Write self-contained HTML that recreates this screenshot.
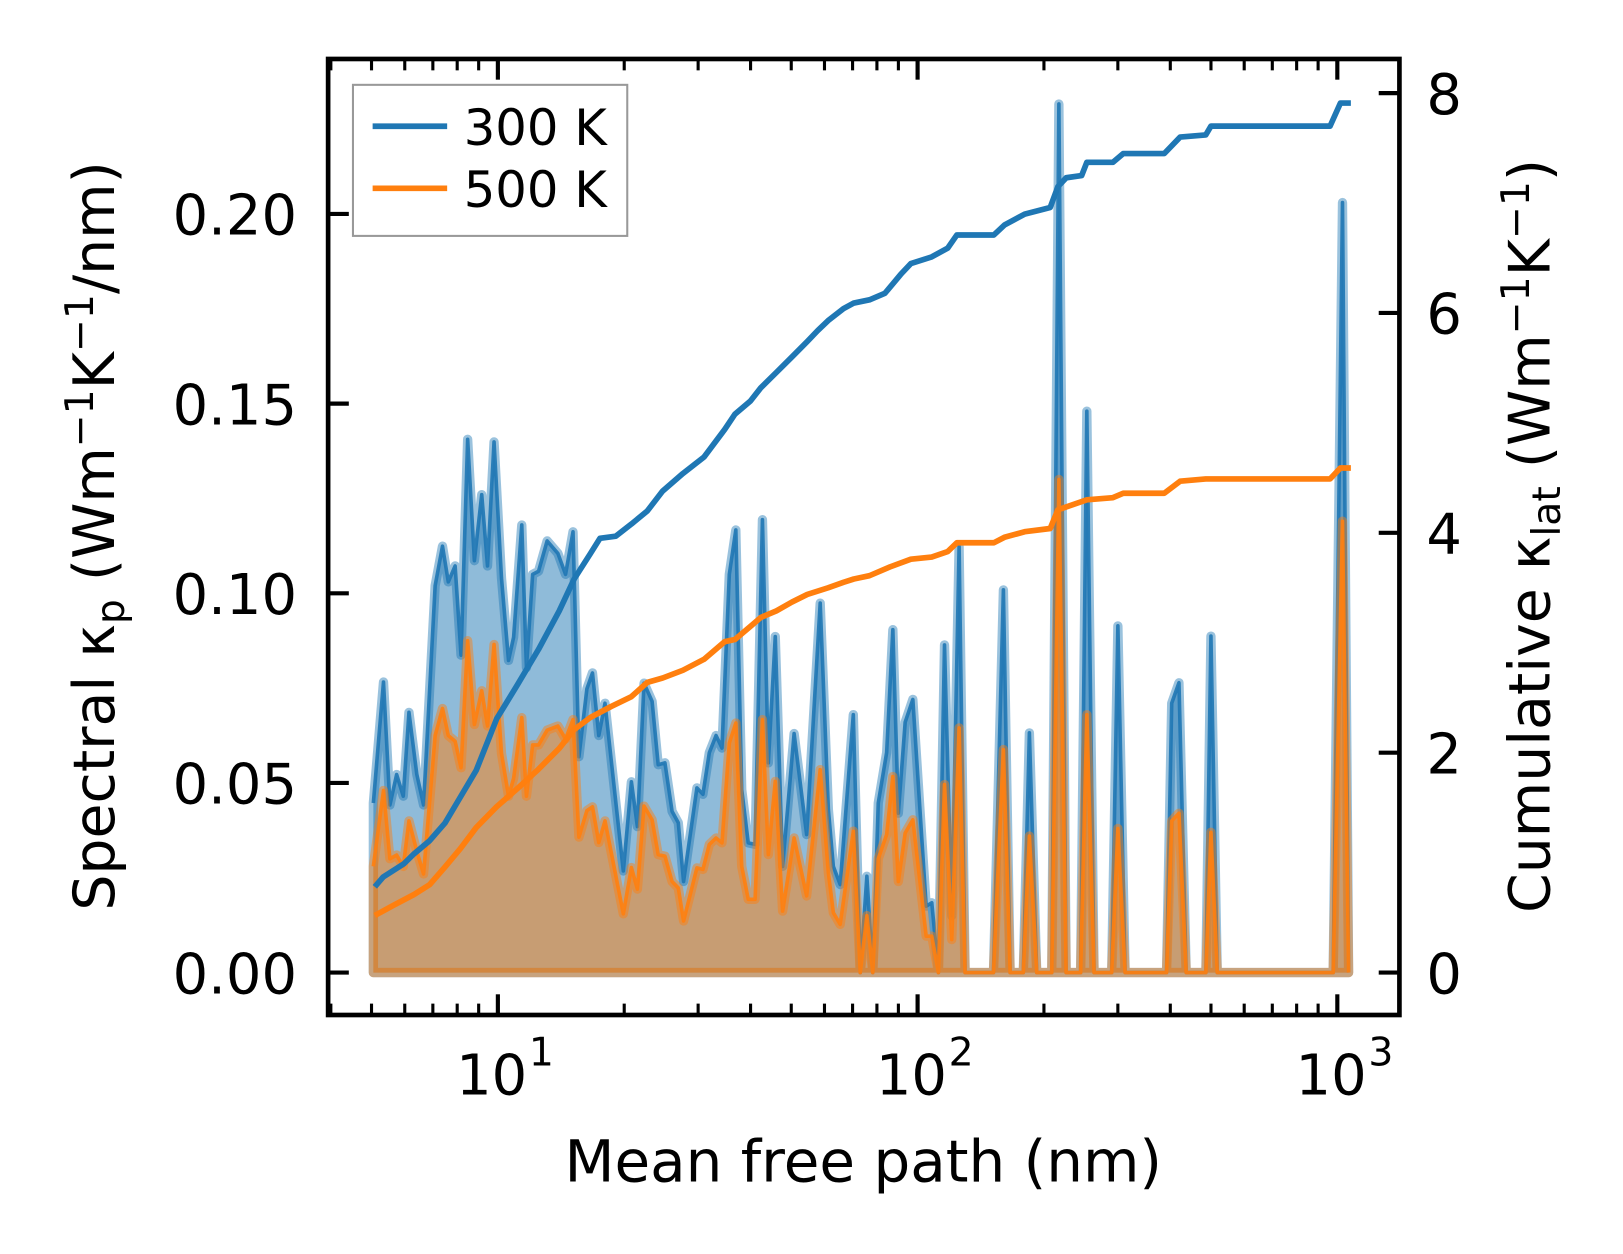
<!DOCTYPE html>
<html><head><meta charset="utf-8"><style>
html,body{margin:0;padding:0;background:#fff;}
svg{display:block;font-family:"DejaVu Sans","Liberation Sans",sans-serif;}
</style></head><body>
<svg id="chart" width="1623" height="1254" viewBox="0 0 1568 1212" preserveAspectRatio="none" xmlns="http://www.w3.org/2000/svg">
<g id="plot"></g>
<g id="axes"></g>
</svg>
<script>
// ---- data ----
const specMfp = [5.05,5.34,5.53,5.74,5.95,6.14,6.41,6.65,7.09,7.38,7.62,7.91,8.17,8.47,8.79,9.15,9.45,9.79,10.2,10.6,10.9,11.4,11.7,12.1,12.5,13.1,13.9,14.5,15.1,15.6,16.3,16.8,17.4,18.0,19.9,20.8,21.5,22.3,23.3,24.1,25.0,26.0,26.9,27.7,29.8,30.8,31.9,33.1,34.2,35.6,36.9,38.1,39.5,41.0,42.7,44.1,45.8,47.7,50.8,54.4,58.6,61.3,63.0,65.4,70.3,73.0,75.7,78.2,80.6,84.4,87.3,90.0,93.4,97.4,104.8,108.1,112.1,115.9,120.6,125.6,129.8,151.6,160.1,166.1,178.6,184.6,192.2,208.7,217.1,225.9,244.6,253.1,263.3,290.0,300.1,312.2,391.8,403.1,419.5,436.5,486.3,500.0,517.4,977.5,1029,1064];
const spec300 = [0.0447,0.0766,0.0442,0.0522,0.0465,0.0686,0.0522,0.0442,0.102,0.1124,0.103,0.1072,0.0837,0.1406,0.1086,0.126,0.1072,0.1399,0.104,0.0823,0.0884,0.118,0.0804,0.105,0.1058,0.1138,0.1105,0.105,0.1162,0.0569,0.0748,0.079,0.0625,0.071,0.0268,0.0503,0.0385,0.0763,0.0715,0.0548,0.0553,0.0425,0.0395,0.024,0.0487,0.047,0.058,0.0625,0.0592,0.105,0.1167,0.0482,0.0342,0.0338,0.1194,0.0553,0.0886,0.028,0.063,0.0364,0.0974,0.043,0.028,0.0232,0.068,0,0.0254,0,0.0447,0.058,0.0904,0.042,0.066,0.072,0.0175,0.0184,0,0.0864,0.015,0.1123,0,0,0.1009,0,0,0.0632,0,0,0.229,0,0,0.148,0,0,0.0914,0,0,0.071,0.0764,0,0,0.0887,0,0,0.203,0];
const spec500 = [0.028,0.048,0.030,0.031,0.028,0.040,0.032,0.026,0.0625,0.0696,0.0625,0.061,0.054,0.0875,0.0654,0.0743,0.065,0.0865,0.0578,0.0465,0.0512,0.0672,0.0465,0.060,0.060,0.0639,0.065,0.0616,0.0667,0.0357,0.0427,0.0437,0.0343,0.040,0.0155,0.0277,0.022,0.0439,0.0403,0.0311,0.0307,0.024,0.0223,0.0136,0.0276,0.0272,0.0338,0.0355,0.0342,0.0605,0.0658,0.028,0.0193,0.0193,0.0667,0.0311,0.0504,0.0162,0.0355,0.0202,0.0535,0.0263,0.0158,0.0127,0.0373,0,0.015,0,0.030,0.0364,0.0517,0.024,0.0368,0.0403,0.0096,0.0096,0,0.0496,0.0087,0.0645,0,0,0.0588,0,0,0.036,0,0,0.130,0,0,0.068,0,0,0.038,0,0,0.040,0.042,0,0,0.037,0,0,0.119,0];
const cumMfp300 = [5.09,5.33,5.97,6.31,6.88,7.48,8.15,8.88,9.94,11.1,12.5,14.0,15.2,16.6,17.5,19.1,20.8,22.7,24.7,27.6,31.0,34.7,36.7,40.0,42.3,46.1,50.2,54.6,57.8,61.2,66.6,70.5,76.8,83.6,91.1,96.4,108,118,124,152,161,180,207,216,226,246,253,292,309,387,422,486,500,961,1017,1077];
const cum300 = [0.78,0.87,0.99,1.08,1.20,1.36,1.60,1.84,2.31,2.61,2.94,3.29,3.58,3.81,3.95,3.97,4.08,4.20,4.38,4.54,4.69,4.94,5.08,5.20,5.32,5.46,5.60,5.74,5.84,5.93,6.04,6.09,6.12,6.18,6.35,6.45,6.51,6.59,6.71,6.71,6.80,6.90,6.96,7.15,7.23,7.25,7.37,7.37,7.45,7.45,7.60,7.62,7.70,7.70,7.91,7.91];
const cumMfp500 = [5.09,5.63,6.31,6.88,7.48,8.15,8.88,9.94,11.1,12.5,14.0,15.2,16.6,18.6,20.8,22.7,24.7,27.6,31.0,34.7,36.7,40.0,42.3,46.1,50.2,54.6,61.2,66.6,70.5,76.8,86.0,96.4,108,118,124,152,161,180,207,216,253,292,309,387,422,486,500,961,1017,1077];
const cum500 = [0.52,0.61,0.71,0.80,0.96,1.13,1.32,1.51,1.67,1.85,2.04,2.21,2.32,2.42,2.51,2.64,2.68,2.75,2.85,3.01,3.03,3.15,3.23,3.29,3.37,3.44,3.50,3.55,3.58,3.61,3.69,3.76,3.78,3.83,3.91,3.91,3.96,4.01,4.04,4.21,4.30,4.32,4.36,4.36,4.47,4.49,4.49,4.49,4.59,4.59];
const leftTicks = [0,0.05,0.10,0.15,0.20];
const leftTickLabels = ["0.00","0.05","0.10","0.15","0.20"];
const rightTicks = [0,2,4,6,8];
const xDecades = [1,2,3];

// ---- axis functions (viewBox units) ----
const AX = {l:317, r:1352, t:57, b:981};
function xs(m){ return 481 + 405.5*(Math.log10(m)-1); }
function yl(v){ return 940 - v*3666; }
function yr(c){ return 940 - c*106.25; }
const NS = "http://www.w3.org/2000/svg";
function mk(tag, attrs, parent){ const e=document.createElementNS(NS,tag); for(const k in attrs) e.setAttribute(k,attrs[k]); parent.appendChild(e); return e; }
const plot = document.getElementById('plot');
const axes = document.getElementById('axes');

function specPath(vals){
  let d=''; vals.forEach((v,i)=>{ d += (i?'L':'M') + xs(specMfp[i]).toFixed(1)+','+yl(v).toFixed(1); }); return d;
}
function fillPath(vals){
  return specPath(vals) + 'L'+xs(specMfp[specMfp.length-1]).toFixed(1)+','+yl(0)+'L'+xs(specMfp[0]).toFixed(1)+','+yl(0)+'Z';
}
function cumPath(mf, vals){
  let d=''; vals.forEach((v,i)=>{ d += (i?'L':'M') + xs(mf[i]).toFixed(1)+','+yr(v).toFixed(1); }); return d;
}
const series = [{vals:spec300,c:'#1f77b4',n:'300'},{vals:spec500,c:'#ff7f0e',n:'500'}];
series.forEach(s=>{
  const f = mk('path',{d:fillPath(s.vals),fill:s.c,'fill-opacity':0.5,stroke:s.c,'stroke-opacity':0.45,'stroke-width':9,'stroke-linejoin':'round'},plot);
  
  
  const l = mk('path',{d:specPath(s.vals),fill:'none',stroke:s.c,'stroke-width':3.5,'stroke-linejoin':'round','stroke-opacity':0.9},plot);
  
  
});
const c1 = mk('path',{d:cumPath(cumMfp300,cum300),fill:'none',stroke:'#1f77b4','stroke-width':5.5,'stroke-linejoin':'round'},plot);


const c2 = mk('path',{d:cumPath(cumMfp500,cum500),fill:'none',stroke:'#ff7f0e','stroke-width':5.5,'stroke-linejoin':'round'},plot);



// frame
const fr = mk('rect',{x:AX.l,y:AX.t,width:AX.r-AX.l,height:AX.b-AX.t,fill:'none',stroke:'#000','stroke-width':4.5},axes);



// left ticks + labels
leftTicks.forEach((v,i)=>{
  const y=yl(v);
  const t=mk('line',{x1:AX.l,x2:AX.l+20,y1:y,y2:y,stroke:'#000','stroke-width':4},axes);
  
  
  const tx=mk('text',{x:287,y:y+20,'text-anchor':'end','font-size':54},axes);
  tx.textContent=leftTickLabels[i];
  
  
});
// right ticks + labels
rightTicks.forEach(v=>{
  const y=yr(v);
  const t=mk('line',{x1:AX.r-20,x2:AX.r,y1:y,y2:y,stroke:'#000','stroke-width':4},axes);
  
  
  const tx=mk('text',{x:1378,y:y+20,'font-size':54},axes);
  tx.textContent=String(v);
  
  
});
// x ticks major/minor (bottom & top)
for(let d=0; d<=3; d++){
  for(let k=1;k<=9;k++){
    const m=k*Math.pow(10,d);
    const x=xs(m);
    if(x<AX.l+2||x>AX.r-2) continue;
    const len = k===1?20:11;
    const tb=mk('line',{x1:x,x2:x,y1:AX.b,y2:AX.b-len,stroke:'#000','stroke-width':k===1?4:3},axes);
    
    
    const tt=mk('line',{x1:x,x2:x,y1:AX.t,y2:AX.t+len,stroke:'#000','stroke-width':k===1?4:3},axes);
    
    
  }
}
xDecades.forEach(p=>{
  const x=xs(Math.pow(10,p));
  const tx=mk('text',{x:x-6,y:1058,'text-anchor':'middle','font-size':54},axes);
  tx.textContent='10';
  
  
  const sp=mk('text',{x:x+30,y:1030,'text-anchor':'start','font-size':38},axes);
  sp.textContent=String(p);
  
  
});
</script>
<svg style="position:absolute;left:0;top:0" width="1623" height="1254" viewBox="0 0 1568 1212" preserveAspectRatio="none" xmlns="http://www.w3.org/2000/svg">
<g font-family="DejaVu Sans, Liberation Sans, sans-serif">
<text x="834" y="1142" text-anchor="middle" font-size="56">Mean free path (nm)</text>
<text transform="translate(110,518) rotate(-90)" text-anchor="middle" font-size="55">Spectral κ<tspan font-size="38" dy="10">p</tspan><tspan dy="-10"> (Wm</tspan><tspan font-size="38" dy="-20">−1</tspan><tspan dy="20">K</tspan><tspan font-size="38" dy="-20">−1</tspan><tspan dy="20">/nm)</tspan></text>
<text transform="translate(1497,518) rotate(-90)" text-anchor="middle" font-size="55">Cumulative κ<tspan font-size="38" dy="10">lat</tspan><tspan dy="-10"> (Wm</tspan><tspan font-size="38" dy="-20">−1</tspan><tspan dy="20">K</tspan><tspan font-size="38" dy="-20">−1</tspan><tspan dy="20">)</tspan></text>
<g>
<rect x="341" y="82" width="265" height="146" fill="#fff" fill-opacity="0.8" stroke="#999" stroke-width="2"/>
<line x1="360" x2="432" y1="122" y2="122" stroke="#1f77b4" stroke-width="5.5"/>
<text x="448" y="140" font-size="48">300 K</text>
<line x1="360" x2="432" y1="182" y2="182" stroke="#ff7f0e" stroke-width="5.5"/>
<text x="448" y="200" font-size="48">500 K</text>
</g>
</g>
</svg>
</body></html>
